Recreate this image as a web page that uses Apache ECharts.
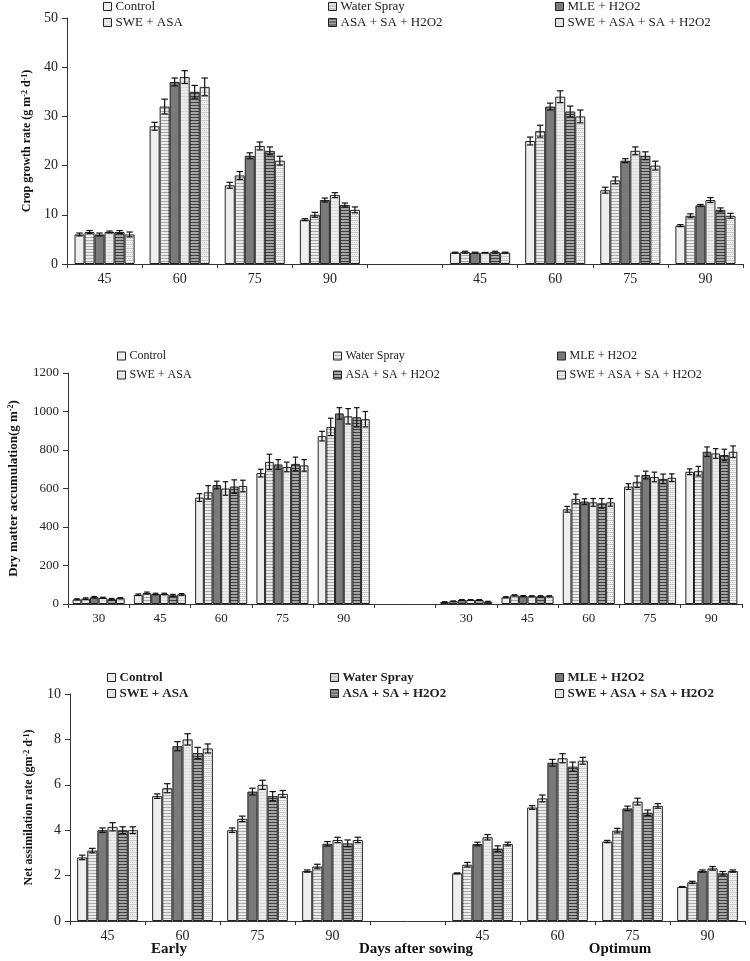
<!DOCTYPE html>
<html>
<head>
<meta charset="utf-8">
<script src="https://cdn.jsdelivr.net/npm/echarts@6/dist/echarts.min.js"></script>
<style>
html,body{margin:0;padding:0;background:#fff;}
#chart{width:750px;height:961px;}
</style>
</head>
<body>
<div id="chart"></div>
<script>
// ---------------- DATA ----------------
const treatments = ['Control', 'Water Spray', 'MLE + H2O2', 'SWE + ASA', 'ASA + SA + H2O2', 'SWE + ASA + SA + H2O2'];

// Crop growth rate (g m-2 d-1)
const cgrDays = ['45', '60', '75', '90'];
const cgrEarly = [
  [6.0, 28, 16, 9.0],
  [6.5, 32, 18, 10],
  [6.0, 37, 22, 13],
  [6.5, 38, 24, 14],
  [6.5, 35, 23, 12],
  [6.0, 36, 21, 11]
];
const cgrEarlyErr = [
  [0.3, 0.8, 0.6, 0.2],
  [0.3, 1.5, 0.8, 0.5],
  [0.3, 0.8, 0.6, 0.4],
  [0.2, 1.3, 0.8, 0.5],
  [0.3, 1.3, 0.8, 0.4],
  [0.5, 1.8, 0.9, 0.6]
];
const cgrOpt = [
  [2.3, 25, 15, 7.8],
  [2.4, 27, 17, 9.8],
  [2.3, 32, 21, 11.9],
  [2.3, 34, 23, 13],
  [2.4, 31, 22, 11],
  [2.3, 30, 20, 9.8]
];
const cgrOptErr = [
  [0.1, 0.8, 0.6, 0.2],
  [0.2, 1.2, 0.7, 0.4],
  [0.1, 0.7, 0.4, 0.2],
  [0.05, 1.2, 0.8, 0.5],
  [0.2, 1.1, 0.8, 0.4],
  [0.1, 1.3, 0.9, 0.5]
];

// Dry matter accumulation (g m-2)
const dmaDays = ['30', '45', '60', '75', '90'];
const dmaEarly = [
  [24, 48, 553, 680, 872],
  [28, 57, 580, 738, 920],
  [35, 52, 618, 725, 990],
  [32, 52, 600, 712, 975],
  [25, 45, 610, 728, 970],
  [30, 50, 613, 720, 960]
];
const dmaEarlyErr = [
  [3, 4, 20, 20, 25],
  [4, 5, 35, 40, 45],
  [4, 4, 20, 25, 30],
  [3, 4, 35, 25, 40],
  [4, 5, 35, 35, 50],
  [3, 4, 30, 30, 40]
];
const dmaOpt = [
  [10, 35, 492, 610, 687],
  [14, 45, 546, 635, 690],
  [21, 41, 532, 670, 791],
  [21, 40, 528, 660, 782],
  [21, 40, 523, 650, 774],
  [12, 40, 528, 656, 791]
];
const dmaOptErr = [
  [2, 3, 15, 15, 15],
  [2, 3, 25, 30, 25],
  [2, 3, 15, 20, 25],
  [2, 3, 20, 25, 25],
  [2, 3, 25, 25, 30],
  [2, 3, 20, 20, 30]
];

// Net assimilation rate (gm-2 d-1)
const narDays = ['45', '60', '75', '90'];
const narEarly = [
  [2.8, 5.5, 4.0, 2.2],
  [3.1, 5.85, 4.5, 2.4],
  [4.0, 7.7, 5.7, 3.4],
  [4.15, 8.0, 6.0, 3.57],
  [4.0, 7.4, 5.5, 3.42],
  [4.0, 7.6, 5.6, 3.57]
];
const narEarlyErr = [
  [0.1, 0.1, 0.1, 0.05],
  [0.1, 0.2, 0.12, 0.1],
  [0.1, 0.2, 0.15, 0.1],
  [0.18, 0.25, 0.2, 0.12],
  [0.15, 0.25, 0.2, 0.15],
  [0.15, 0.2, 0.15, 0.12]
];
const narOpt = [
  [2.1, 5.0, 3.5, 1.5],
  [2.48, 5.4, 3.98, 1.7],
  [3.39, 6.97, 4.96, 2.2],
  [3.69, 7.17, 5.26, 2.32],
  [3.19, 6.8, 4.77, 2.1],
  [3.39, 7.06, 5.07, 2.2]
];
const narOptErr = [
  [0.02, 0.08, 0.05, 0.02],
  [0.1, 0.15, 0.1, 0.05],
  [0.08, 0.15, 0.1, 0.05],
  [0.12, 0.2, 0.15, 0.08],
  [0.12, 0.2, 0.12, 0.08],
  [0.08, 0.15, 0.1, 0.05]
];

// ---------------- STYLE ----------------
const SERIF = '"Liberation Serif", "Times New Roman", serif';

function pat(w, h, draw) {
  const c = document.createElement('canvas');
  c.width = w; c.height = h;
  const g = c.getContext('2d');
  draw(g, w, h);
  return { image: c, repeat: 'repeat' };
}
const fills = [
  '#eeeeee',
  pat(4, 3, (g, w, h) => { g.fillStyle = '#ebebeb'; g.fillRect(0, 0, w, h); g.fillStyle = '#a9a9a9'; g.fillRect(0, 0, w, 1); }),
  '#7a7a7a',
  pat(4, 3, (g, w, h) => { g.fillStyle = '#ebebeb'; g.fillRect(0, 0, w, h); g.fillStyle = '#dadada'; g.fillRect(0, 0, w, 1); }),
  pat(4, 3, (g, w, h) => { g.fillStyle = '#a5a5a5'; g.fillRect(0, 0, w, h); g.fillStyle = '#404040'; g.fillRect(0, 0, w, 1); }),
  pat(4, 4, (g, w, h) => { g.fillStyle = '#f2f2f2'; g.fillRect(0, 0, w, h); g.fillStyle = '#c8c8c8'; g.fillRect(0, 0, w, 1); g.fillRect(0, 2, 1, 1); g.fillRect(2, 2, 1, 1); })
];

const panels = [
  {
    days: cgrDays, early: cgrEarly, earlyErr: cgrEarlyErr, opt: cgrOpt, optErr: cgrOptErr,
    grid: { left: 67, top: 18, width: 676, height: 246 },
    yMax: 50, yInt: 10, gap: 0.2,
    name: '{n|Crop growth rate (g m}{s|-2}{n| d}{s|-1}{n|)}', nameGap: 34, nameSize: 12,
    labelSize: 14,
    legendTop: 0, legendGap: 3, legendLefts: [103, 328, 555], legendSize: 13, legendWeight: 'normal'
  },
  {
    days: dmaDays, early: dmaEarly, earlyErr: dmaEarlyErr, opt: dmaOpt, optErr: dmaOptErr,
    grid: { left: 68, top: 373, width: 674, height: 231 },
    yMax: 1200, yInt: 200, gap: 0.15,
    name: '{n|Dry matter accumulation(g m}{s|-2}{n|)}', nameGap: 48, nameSize: 13,
    labelSize: 13,
    legendTop: 350, legendGap: 7, legendLefts: [117, 333, 557], legendSize: 12, legendWeight: 'normal'
  },
  {
    days: narDays, early: narEarly, earlyErr: narEarlyErr, opt: narOpt, optErr: narOptErr,
    grid: { left: 70, top: 694, width: 675, height: 227 },
    yMax: 10, yInt: 2, gap: 0.19,
    name: '{n|Net assimilation rate (gm}{s|-2}{n| d}{s|-1}{n|)}', nameGap: 35, nameSize: 12,
    labelSize: 14,
    legendTop: 671, legendGap: 3, legendLefts: [107, 330, 555], legendSize: 13, legendWeight: 'bold'
  }
];

// ---------------- BUILD ----------------
const grids = [], xAxes = [], yAxes = [], series = [], legends = [];

panels.forEach((p, pi) => {
  const n = p.days.length;
  const cats = [...p.days, '', ...p.days];
  grids.push(Object.assign({ outerBoundsMode: 'none', containLabel: false }, p.grid));
  xAxes.push({
    type: 'category', gridIndex: pi, data: cats,
    axisLine: { lineStyle: { color: '#333', width: 1 } },
    axisTick: { show: true, interval: 0, length: 4, lineStyle: { color: '#333' } },
    axisLabel: { interval: 0, margin: 8, fontFamily: SERIF, fontSize: p.labelSize, color: '#222' },
    splitLine: { show: false }
  });
  yAxes.push({
    type: 'value', gridIndex: pi, min: 0, max: p.yMax, interval: p.yInt,
    name: p.name, nameLocation: 'middle', nameRotate: 90, nameGap: p.nameGap,
    nameTextStyle: {
      rich: {
        n: { fontFamily: SERIF, fontWeight: 'bold', fontSize: p.nameSize, color: '#111' },
        s: { fontFamily: SERIF, fontWeight: 'bold', fontSize: Math.round(p.nameSize * 0.65), color: '#111', verticalAlign: 'top' }
      }
    },
    axisLine: { show: true, lineStyle: { color: '#333', width: 1 } },
    axisTick: { show: true, length: 5, lineStyle: { color: '#333' } },
    axisLabel: { margin: 9, fontFamily: SERIF, fontSize: p.labelSize, color: '#222', formatter: v => String(v) },
    splitLine: { show: false }
  });

  treatments.forEach((t, ti) => {
    series.push({
      type: 'bar', name: t, xAxisIndex: pi, yAxisIndex: pi,
      data: [...p.early[ti], null, ...p.opt[ti]],
      barGap: '0%', barCategoryGap: (p.gap * 100) + '%',
      itemStyle: { color: fills[ti], borderColor: '#222', borderWidth: 1 },
      emphasis: { disabled: true },
      animation: false
    });
  });

  const errData = [];
  treatments.forEach((t, ti) => {
    p.early[ti].forEach((v, i) => errData.push([i, ti, v, p.earlyErr[ti][i]]));
    p.opt[ti].forEach((v, i) => errData.push([i + n + 1, ti, v, p.optErr[ti][i]]));
  });
  const gap = p.gap;
  series.push({
    type: 'custom', name: 'err' + pi, xAxisIndex: pi, yAxisIndex: pi,
    data: errData, encode: { x: 0, y: 2 }, z: 10, silent: true, animation: false,
    renderItem: function (params, api) {
      const cat = api.value(0), ti = api.value(1), v = api.value(2), e = api.value(3);
      const band = api.size([1, 0])[0];
      const barW = band * (1 - gap) / 6;
      const c = api.coord([cat, v]);
      const x = c[0] - band * (1 - gap) / 2 + barW * (ti + 0.5);
      const yt = api.coord([cat, v + e])[1];
      const yb = api.coord([cat, Math.max(0, v - e)])[1];
      const cap = barW * 0.32;
      const st = { stroke: '#111', lineWidth: 1.2 };
      return {
        type: 'group',
        children: [
          { type: 'line', shape: { x1: x, y1: yt, x2: x, y2: yb }, style: st },
          { type: 'line', shape: { x1: x - cap, y1: yt, x2: x + cap, y2: yt }, style: st },
          { type: 'line', shape: { x1: x - cap, y1: yb, x2: x + cap, y2: yb }, style: st }
        ]
      };
    }
  });

  for (let c = 0; c < 3; c++) {
    legends.push({
      orient: 'vertical', left: p.legendLefts[c], top: p.legendTop, padding: 0,
      data: [treatments[c], treatments[c + 3]],
      icon: 'rect', itemWidth: 8, itemHeight: 8, itemGap: p.legendGap,
      selectedMode: false,
      itemStyle: { borderColor: '#222', borderWidth: 1 },
      textStyle: { fontFamily: SERIF, fontSize: p.legendSize, fontWeight: p.legendWeight, color: '#222', padding: [0, 0, 0, -1] }
    });
  }
});

const bottomLabels = [
  { text: 'Early', x: 169 },
  { text: 'Days after sowing', x: 416 },
  { text: 'Optimum', x: 620 }
];

const chart = echarts.init(document.getElementById('chart'), null, { renderer: 'canvas' });
chart.setOption({
  backgroundColor: '#fff',
  animation: false,
  grid: grids,
  xAxis: xAxes,
  yAxis: yAxes,
  legend: legends,
  series: series,
  graphic: bottomLabels.map(b => ({
    type: 'text', x: b.x, y: 949,
    style: { text: b.text, fontFamily: SERIF, fontWeight: 'bold', fontSize: 15, fill: '#111', align: 'center', verticalAlign: 'middle' }
  }))
});
</script>
</body>
</html>
